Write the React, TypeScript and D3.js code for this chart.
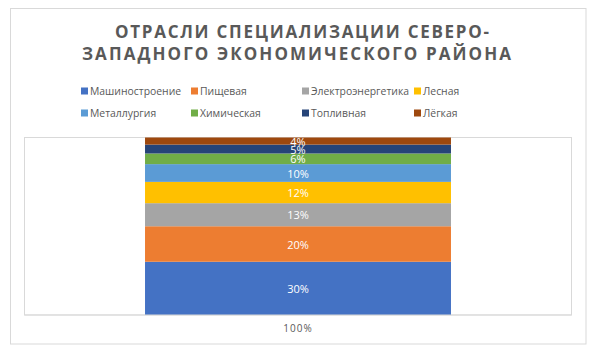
import React from "react";
import * as d3 from "d3";

const categories = ["100%"];
const seriesNames = ["Машиностроение", "Пищевая", "Электроэнергетика", "Лесная", "Металлургия", "Химическая", "Топливная", "Лёгкая"];
const seriesValues = [30, 20, 13, 12, 10, 6, 5, 4];
const seriesColors = ["#4472C4", "#ED7D31", "#A5A5A5", "#FFC000", "#5B9BD5", "#70AD47", "#264478", "#9E480E"];
const titleLines = ["ОТРАСЛИ СПЕЦИАЛИЗАЦИИ СЕВЕРО-", "ЗАПАДНОГО ЭКОНОМИЧЕСКОГО РАЙОНА"];

const W = 600, H = 355;
const plot = { left: 24.5, right: 571.5, top: 137.5, bottom: 315 };
const font = "'Open Sans', 'DejaVu Sans', sans-serif";

export default function App() {
  const x = d3.scaleBand<string>().domain(categories).range([plot.left, plot.right]).padding(0.2826);
  const y = d3.scaleLinear().domain([0, 100]).range([plot.bottom, plot.top]);

  const row: any = { cat: categories[0] };
  seriesNames.forEach((n, j) => (row[n] = seriesValues[j]));
  const stack = d3.stack<any>().keys(seriesNames)([row]);

  const legendCols = [81, 191, 302, 414];
  const legendRows = [91, 113];
  const titleBoxes = [
    { cx: 302, len: 374 },
    { cx: 296.5, len: 429 },
  ];

  return (
    <svg width={W} height={H} style={{ position: "absolute", left: 0, top: 0, background: "#fff" }}>
      <rect x={10.5} y={8.5} width={575.5} height={335.5} fill="#fff" stroke="#D9D9D9" strokeWidth={1} />
      {titleLines.map((t, i) => (
        <text key={i} x={titleBoxes[i].cx - titleBoxes[i].len / 2} y={38 + i * 22} fontFamily={font} fontWeight={700}
          fontSize={17} textLength={titleBoxes[i].len} lengthAdjust="spacing" fill="#595959">{t}</text>
      ))}
      {seriesNames.map((n, i) => {
        const cx = legendCols[i % 4];
        const cy = legendRows[Math.floor(i / 4)];
        return (
          <g key={n}>
            <rect x={cx} y={cy - 3.5} width={7} height={7} fill={seriesColors[i]} />
            <text x={cx + 9} y={cy} dominantBaseline="central" fontFamily={font} fontSize={10.4} fill="#595959">{n}</text>
          </g>
        );
      })}
      <rect x={plot.left} y={plot.top} width={plot.right - plot.left} height={plot.bottom - plot.top}
        fill="none" stroke="#D9D9D9" strokeWidth={1} />
      {stack.map((layer, i) => {
        const d = layer[0];
        const cat = categories[0];
        const y0 = y(d[0]), y1 = y(d[1]);
        return (
          <g key={layer.key}>
            <rect x={x(cat)} y={y1} width={x.bandwidth()} height={y0 - y1} fill={seriesColors[i]} />
            <text x={(x(cat) as number) + x.bandwidth() / 2} y={(y0 + y1) / 2} textAnchor="middle"
              dominantBaseline="central" fontFamily={font} fontSize={11} fill="#fff">
              {seriesValues[i]}%
            </text>
          </g>
        );
      })}
      <line x1={plot.left} x2={plot.right} y1={plot.bottom} y2={plot.bottom} stroke="#D9D9D9" />
      {categories.map((c) => (
        <text key={c} x={(x(c) as number) + x.bandwidth() / 2} y={328} textAnchor="middle" dominantBaseline="central"
          fontFamily={font} fontSize={10} letterSpacing={1} fill="#595959">{c}</text>
      ))}
    </svg>
  );
}
